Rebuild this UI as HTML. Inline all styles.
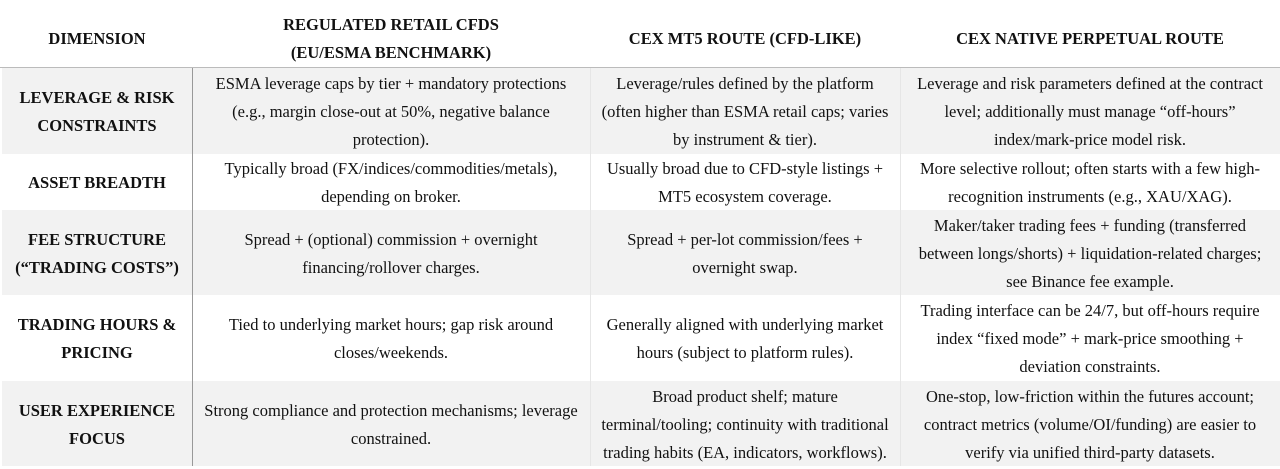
<!DOCTYPE html>
<html><head><meta charset="utf-8"><style>
body{margin:0;width:1280px;height:469px;background:#fff;overflow:hidden;font-family:"Liberation Serif",serif;color:#111}
.r{position:absolute;left:2px;width:1278px}
.g{background:#f2f2f2}
.c{position:absolute;top:0;bottom:0;display:flex;align-items:center;justify-content:center;text-align:center;font-size:16.5px;line-height:28px;padding-top:2px;box-sizing:border-box}
.c1{left:0;width:190px;font-weight:bold;font-size:16.5px}
.c2{left:190px;width:398px}
.c3{left:588px;width:310px}
.c4{left:898px;width:380px}
.h .c{font-weight:bold;font-size:16.5px;padding-top:10px}
</style></head><body>
<div class="r h" style="top:0;height:67px">
<div class="c c1">DIMENSION</div>
<div class="c c2">REGULATED RETAIL CFDS<br>(EU/ESMA BENCHMARK)</div>
<div class="c c3">CEX MT5 ROUTE (CFD-LIKE)</div>
<div class="c c4">CEX NATIVE PERPETUAL ROUTE</div>
</div>
<div style="position:absolute;left:0;top:67px;width:1280px;height:1px;background:#bbb"></div>
<div class="r g" style="top:68px;height:86px">
<div class="c c1">LEVERAGE &amp; RISK<br>CONSTRAINTS</div>
<div class="c c2">ESMA leverage caps by tier + mandatory protections<br>(e.g., margin close-out at 50%, negative balance<br>protection).</div>
<div class="c c3">Leverage/rules defined by the platform<br>(often higher than ESMA retail caps; varies<br>by instrument &amp; tier).</div>
<div class="c c4">Leverage and risk parameters defined at the contract<br>level; additionally must manage “off-hours”<br>index/mark-price model risk.</div>
</div>
<div class="r" style="top:154px;height:56px">
<div class="c c1">ASSET BREADTH</div>
<div class="c c2">Typically broad (FX/indices/commodities/metals),<br>depending on broker.</div>
<div class="c c3">Usually broad due to CFD-style listings +<br>MT5 ecosystem coverage.</div>
<div class="c c4">More selective rollout; often starts with a few high-<br>recognition instruments (e.g., XAU/XAG).</div>
</div>
<div class="r g" style="top:210px;height:85px">
<div class="c c1">FEE STRUCTURE<br>(“TRADING COSTS”)</div>
<div class="c c2">Spread + (optional) commission + overnight<br>financing/rollover charges.</div>
<div class="c c3">Spread + per-lot commission/fees +<br>overnight swap.</div>
<div class="c c4">Maker/taker trading fees + funding (transferred<br>between longs/shorts) + liquidation-related charges;<br>see Binance fee example.</div>
</div>
<div class="r" style="top:295px;height:86px">
<div class="c c1">TRADING HOURS &amp;<br>PRICING</div>
<div class="c c2">Tied to underlying market hours; gap risk around<br>closes/weekends.</div>
<div class="c c3">Generally aligned with underlying market<br>hours (subject to platform rules).</div>
<div class="c c4">Trading interface can be 24/7, but off-hours require<br>index “fixed mode” + mark-price smoothing +<br>deviation constraints.</div>
</div>
<div class="r g" style="top:381px;height:85px">
<div class="c c1">USER EXPERIENCE<br>FOCUS</div>
<div class="c c2">Strong compliance and protection mechanisms; leverage<br>constrained.</div>
<div class="c c3">Broad product shelf; mature<br>terminal/tooling; continuity with traditional<br>trading habits (EA, indicators, workflows).</div>
<div class="c c4">One-stop, low-friction within the futures account;<br>contract metrics (volume/OI/funding) are easier to<br>verify via unified third-party datasets.</div>
</div>
<div style="position:absolute;left:192px;top:68px;width:1px;height:398px;background:#999"></div>
<div style="position:absolute;left:590px;top:68px;width:1px;height:398px;background:#e6e6e6"></div>
<div style="position:absolute;left:900px;top:68px;width:1px;height:398px;background:#e6e6e6"></div>
</body></html>
